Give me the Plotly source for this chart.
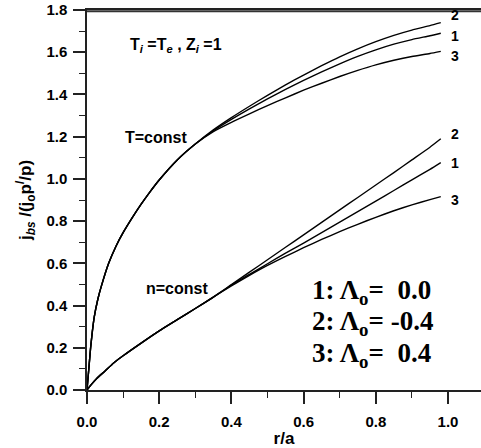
import plotly.graph_objects as go

# ---- data ----
r_T = [0, 0.005, 0.01, 0.015, 0.02, 0.03, 0.04, 0.06, 0.08, 0.1, 0.125, 0.15, 0.175, 0.2, 0.25, 0.3,
       0.35, 0.4, 0.45, 0.5, 0.55, 0.6, 0.65, 0.7, 0.75, 0.8, 0.85, 0.9, 0.95, 0.98]
T_shared = [0, 0.10, 0.20, 0.28, 0.345, 0.43, 0.493, 0.60, 0.68, 0.745, 0.815, 0.88, 0.94, 0.995, 1.09, 1.165]
T1_tail = [1.228, 1.282, 1.332, 1.379, 1.424, 1.467, 1.507, 1.545, 1.58, 1.611, 1.638, 1.66, 1.678, 1.69]
T2_tail = [1.232, 1.29, 1.344, 1.396, 1.445, 1.492, 1.536, 1.578, 1.616, 1.65, 1.68, 1.705, 1.726, 1.74]
T3_tail = [1.224, 1.268, 1.308, 1.347, 1.384, 1.42, 1.453, 1.485, 1.514, 1.54, 1.562, 1.58, 1.594, 1.604]

r_n = [0, 0.01, 0.027, 0.05, 0.073, 0.1, 0.15, 0.2, 0.25, 0.3, 0.35,
       0.4, 0.45, 0.5, 0.55, 0.6, 0.65, 0.7, 0.75, 0.8, 0.85, 0.9, 0.95, 0.98]
n_shared = [0, 0.022, 0.055, 0.09, 0.127, 0.162, 0.222, 0.28, 0.333, 0.386, 0.44]
n1_tail = [0.497, 0.548, 0.598, 0.648, 0.696, 0.745, 0.795, 0.845, 0.895, 0.945, 0.995, 1.045, 1.077]
n2_tail = [0.499, 0.558, 0.617, 0.676, 0.735, 0.794, 0.853, 0.912, 0.971, 1.03, 1.09, 1.15, 1.19]
n3_tail = [0.493, 0.543, 0.59, 0.633, 0.674, 0.713, 0.75, 0.785, 0.818, 0.849, 0.877, 0.902, 0.916]

curve_ids = ["1", "2", "3"]
legend_lines = ["1: \u039b<sub>o</sub>=  0.0", "2: \u039b<sub>o</sub>= -0.4", "3: \u039b<sub>o</sub>=  0.4"]

tick_vals = [0.0, 0.2, 0.4, 0.6, 0.8, 1.0]
y_tick_vals = [0.0, 0.2, 0.4, 0.6, 0.8, 1.0, 1.2, 1.4, 1.6, 1.8]

SANS = "Liberation Sans, Arial, sans-serif"
SERIF = "Liberation Serif, Times New Roman, serif"

fig = go.Figure()
T_curves = {"1": T_shared + T1_tail, "2": T_shared + T2_tail, "3": T_shared + T3_tail}
n_curves = {"1": n_shared + n1_tail, "2": n_shared + n2_tail, "3": n_shared + n3_tail}
line_style = dict(color="black", width=1.4, shape="spline", smoothing=0.5)
for cid in curve_ids:
    fig.add_trace(go.Scatter(x=r_T, y=T_curves[cid], mode="lines", line=line_style,
                             showlegend=False, hoverinfo="skip"))
    fig.add_trace(go.Scatter(x=r_n, y=n_curves[cid], mode="lines", line=line_style,
                             showlegend=False, hoverinfo="skip"))

# curve end labels
label_font = dict(family=SANS, size=14, color="black", weight="bold")
for cid, yT, yN in [("2", 1.776, 1.213), ("1", 1.677, 1.075), ("3", 1.582, 0.90)]:
    fig.add_annotation(x=1.019, y=yT, text=cid, showarrow=False, font=label_font,
                       xanchor="center", yanchor="middle")
    fig.add_annotation(x=1.019, y=yN, text=cid, showarrow=False, font=label_font,
                       xanchor="center", yanchor="middle")

txt_font = dict(family=SANS, size=16, color="black", weight="bold")
fig.add_annotation(x=0.247, y=1.634, text="T<sub><i>i</i></sub> =T<sub><i>e</i></sub> , Z<sub><i>i</i></sub> =1",
                   showarrow=False, font=txt_font, xanchor="center", yanchor="middle")
fig.add_annotation(x=0.191, y=1.198, text="T=const", showarrow=False, font=txt_font,
                   xanchor="center", yanchor="middle")
fig.add_annotation(x=0.249, y=0.483, text="n=const", showarrow=False, font=txt_font,
                   xanchor="center", yanchor="middle")

for line, yv in zip(legend_lines, [0.464, 0.317, 0.166]):
    fig.add_annotation(x=0.618, y=yv, text=line, showarrow=False,
                       font=dict(family=SERIF, size=27, color="black", weight="bold"),
                       xanchor="left", yanchor="middle")

# top frame line, drawn just inside the top edge of the plotting area
fig.add_shape(type="line", xref="paper", yref="paper", x0=0, x1=1, y0=0.997, y1=0.997,
              line=dict(color="#333", width=2), layer="above")

axis_common = dict(showgrid=False, zeroline=False, showline=True, linecolor="#222", linewidth=1.5,
                   ticks="outside", ticklen=12, tickwidth=1.5, tickcolor="#222", automargin=False,
                   ticklabeloverflow="allow",
                   tickfont=dict(family=SANS, size=15, color="black", weight="bold"), tickformat=".1f",
                   minor=dict(ticks="outside", ticklen=6, tickwidth=1.2, tickcolor="#222", dtick=0.1, showgrid=False))

fig.update_xaxes(range=[0, 1.0914], tickvals=tick_vals, ticklabelstandoff=5, mirror=True,
                 title=dict(text="r/a", font=dict(family=SANS, size=17, color="black", weight="bold"), standoff=0),
                 **axis_common)
fig.update_yaxes(range=[0, 1.8], tickvals=y_tick_vals, ticklabelstandoff=3,
                 title=dict(text="j<sub><i>bs</i></sub> /(j<sub>o</sub>p<sup>/</sup>/p)",
                            font=dict(family=SANS, size=17, color="black", weight="bold"), standoff=10),
                 **axis_common)

fig.update_layout(width=481, height=448, margin=dict(l=87, r=0, t=10, b=58),
                  plot_bgcolor="white", paper_bgcolor="white")

# remove the page's default body margin so the figure fills the window exactly
fig.write_html("out.html", config={"displayModeBar": False},
               post_script="document.body.style.margin='0px';")
